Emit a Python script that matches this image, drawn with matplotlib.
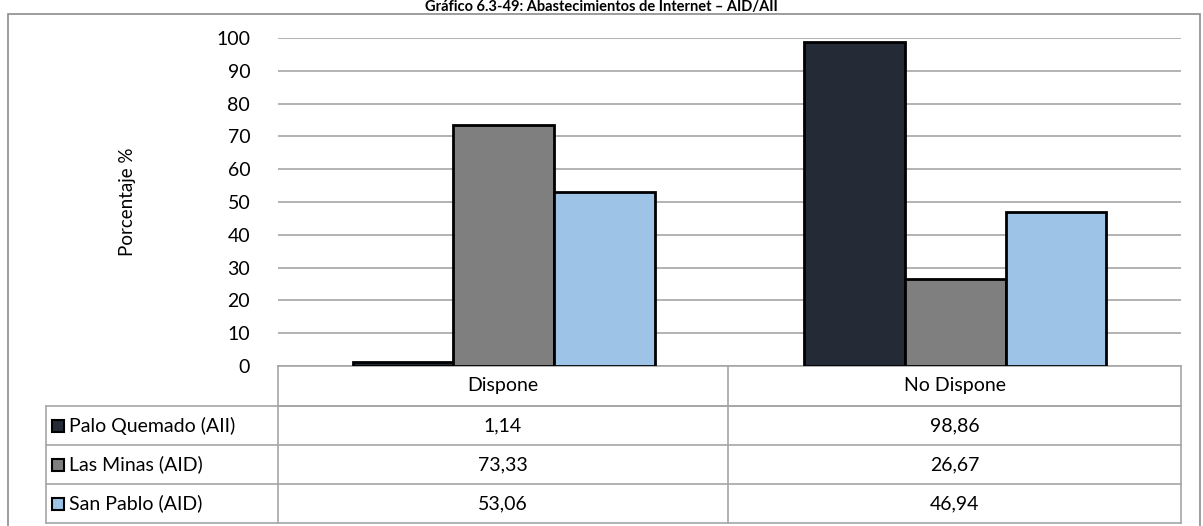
import numpy as np
import matplotlib.pyplot as plt
from matplotlib.patches import Rectangle
from matplotlib.lines import Line2D

plt.rcParams['font.family'] = ['Lato', 'DejaVu Sans']

categories = ['Dispone', 'No Dispone']
series_names = ['Palo Quemado (AII)', 'Las Minas (AID)', 'San Pablo (AID)']
palo = [1.14, 98.86]
minas = [73.33, 26.67]
sanpablo = [53.06, 46.94]
series_values = [palo, minas, sanpablo]
colors = ['#242b37', '#7f7f7f', '#9dc3e6']
title = 'Gráfico 6.3-49: Abastecimientos de Internet – AID/AII'

W, H = 1203, 526
fig = plt.figure(figsize=(W / 100, H / 100), dpi=100)

# pixel helpers
ax_l, ax_r, ax_t, ax_b = 278, 1181, 38, 366
ax = fig.add_axes([ax_l / W, 1 - ax_b / H, (ax_r - ax_l) / W, (ax_b - ax_t) / H])

x = np.arange(len(categories))
bw = 0.2233
for i, (vals, c) in enumerate(zip(series_values, colors)):
    ax.bar(x + (i - 1) * bw, vals, bw, color=c, edgecolor='black', linewidth=2, zorder=3)

ax.set_xlim(-0.5, 1.5)
ax.set_ylim(0, 100)
ax.set_yticks(range(0, 101, 10))
ax.yaxis.grid(True, color='#a6a6a6', linewidth=1.2, zorder=0)
ax.set_xticks([])
for s in ['top', 'right', 'left']:
    ax.spines[s].set_visible(False)
ax.spines['bottom'].set_color('#a6a6a6')
ax.spines['bottom'].set_linewidth(1.2)
ax.tick_params(axis='y', length=0, labelsize=14, pad=20)
ax.set_ylabel('Porcentaje %', fontsize=13.5, labelpad=58)


def px(xp, yp):
    return (xp - ax_l) / (ax_r - ax_l), (ax_b - yp) / (ax_b - ax_t)


lc = '#a6a6a6'
lw = 1.2


def hline(x0, x1, y):
    a, b = px(x0, y)
    c, d = px(x1, y)
    ax.add_line(Line2D([a, c], [b, d], transform=ax.transAxes, color=lc, lw=lw, clip_on=False))


def vline(xp, y0, y1):
    a, b = px(xp, y0)
    c, d = px(xp, y1)
    ax.add_line(Line2D([a, c], [b, d], transform=ax.transAxes, color=lc, lw=lw, clip_on=False))


row_y = [366, 406, 445, 484, 523]
col_x = [46, 278, 728, 1181]
# header row
hline(278, 1181, 406)
for xp in [278, 728, 1181]:
    vline(xp, 366, 523)
for yp in row_y[1:]:
    hline(46, 1181, yp)
vline(46, 406, 523)

for j, cat in enumerate(categories):
    cx = (col_x[j + 1] + col_x[j + 2]) / 2
    tx, ty = px(cx, (row_y[0] + row_y[1]) / 2)
    ax.text(tx, ty, cat, transform=ax.transAxes, ha='center', va='center', fontsize=14)

for i, (name, vals, c) in enumerate(zip(series_names, series_values, colors)):
    cy = (row_y[i + 1] + row_y[i + 2]) / 2
    sx, sy = px(52, cy + 6)
    sx2, sy2 = px(64, cy - 6)
    ax.add_patch(Rectangle((sx, sy), sx2 - sx, sy2 - sy, transform=ax.transAxes,
                           facecolor=c, edgecolor='black', lw=1.5, clip_on=False))
    tx, ty = px(69, cy)
    ax.text(tx, ty, name, transform=ax.transAxes, ha='left', va='center', fontsize=14)
    for j, v in enumerate(vals):
        cx = (col_x[j + 1] + col_x[j + 2]) / 2
        tx, ty = px(cx, cy)
        ax.text(tx, ty, ('%.2f' % v).replace('.', ','), transform=ax.transAxes,
                ha='center', va='center', fontsize=14)

# outer frame
fig.add_artist(Rectangle((8 / W, -0.05), (1200 - 8) / W, 1 - 14 / H + 0.05,
                         transform=fig.transFigure, fill=False, edgecolor='#8c8c8c', lw=1.2))
fig.text(0.5, 1 - 0.5 / H, title, ha='center', va='top', fontsize=10.5, fontweight='bold')

fig.savefig('out.png', dpi=100)
